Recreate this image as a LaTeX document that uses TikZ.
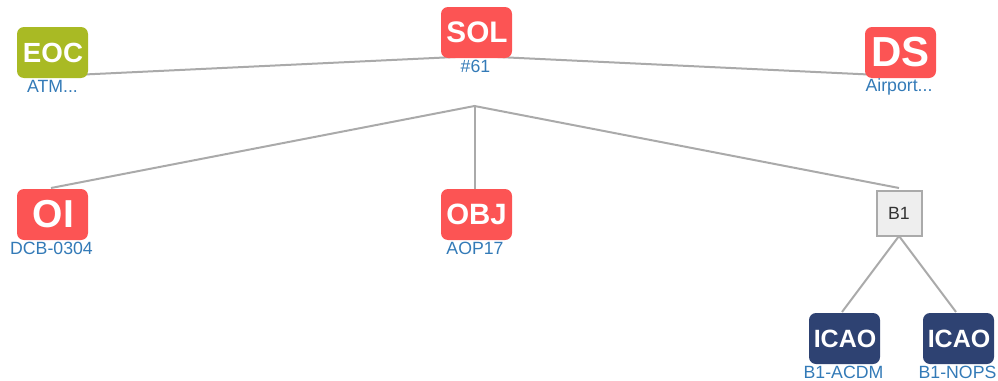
\documentclass[tikz,border=0pt]{standalone}
\usepackage{fontspec}
\setmainfont{Liberation Sans}
\definecolor{redbox}{HTML}{FC5454}
\definecolor{greenbox}{HTML}{A9BA24}
\definecolor{navybox}{HTML}{2E4272}
\definecolor{linkblue}{HTML}{337AB7}
\definecolor{edgegrey}{HTML}{AAAAAA}
\definecolor{squarefill}{HTML}{EEEEEE}
\definecolor{squaretext}{HTML}{333333}
\tikzset{
  badge/.style={rounded corners=7pt,minimum width=71pt,minimum height=51pt,inner sep=0pt,text=white,font=\bfseries,anchor=center},
  redbadge/.style={badge,fill=redbox},
  greenbadge/.style={badge,fill=greenbox},
  navybadge/.style={badge,fill=navybox},
  sublabel/.style={text=linkblue,font=\fontsize{17.7}{18}\selectfont,inner sep=0pt,anchor=center},
  edge/.style={draw=edgegrey,line width=2pt},
  squarenode/.style={draw=edgegrey,line width=2pt,fill=squarefill,minimum size=45pt,inner sep=0pt,text=squaretext,font=\fontsize{17.7}{18}\selectfont}
}
\begin{document}
\begin{tikzpicture}[x=1pt,y=-1pt]
\useasboundingbox (0,0) rectangle (998,380);
\coordinate (apex) at (474.5,106);
\coordinate (eocend) at (52.5,76);
\coordinate (solend) at (476.5,56);
\coordinate (dsend) at (900.5,76);
\coordinate (oitop) at (51,188);
\coordinate (objtop) at (474.5,189);
\coordinate (bonetop) at (899,188);
\coordinate (bonebot) at (899,236);
\coordinate (icaoatop) at (842,312);
\coordinate (icaobtop) at (956,312);
\draw[edge] (eocend) -- (solend) -- (dsend);
\draw[edge] (oitop) -- (apex) -- (bonetop);
\draw[edge] (apex) -- (objtop);
\draw[edge] (icaoatop) -- (bonebot) -- (icaobtop);
\node[greenbadge] (eoc) at (52.5,52.5) {\fontsize{27.7}{28}\selectfont\kern1pt EOC};
\node[redbadge] (sol) at (476.5,32.5) {\fontsize{29.7}{30}\selectfont\kern1pt SOL};
\node[redbadge] (ds) at (900.5,52.5) {\fontsize{42}{42}\selectfont DS};
\node[redbadge] (oi) at (52.5,214.5) {\fontsize{39}{40}\selectfont\kern1.5pt OI};
\node[redbadge] (obj) at (476.5,214.5) {\fontsize{29.4}{30}\selectfont OBJ};
\node[squarenode] (bone) at (899,213) {B1};
\node[navybadge] (icaoa) at (844.5,338.5) {\fontsize{25}{25}\selectfont\kern1pt ICAO};
\node[navybadge] (icaob) at (958.5,338.5) {\fontsize{25}{25}\selectfont\kern1pt ICAO};
\node[sublabel] (l1) at (52.5,86.5) {ATM...};
\node[sublabel] (l2) at (475.5,66.5) {\#61};
\node[sublabel] (l3) at (899,86.5) {Airport...};
\node[sublabel] (l4) at (51.5,248.5) {DCB-0304};
\node[sublabel] (l5) at (475,248.5) {AOP17};
\node[sublabel] (l6) at (843.5,372.5) {B1-ACDM};
\node[sublabel] (l7) at (957.5,372.5) {B1-NOPS};
\end{tikzpicture}
\end{document}
